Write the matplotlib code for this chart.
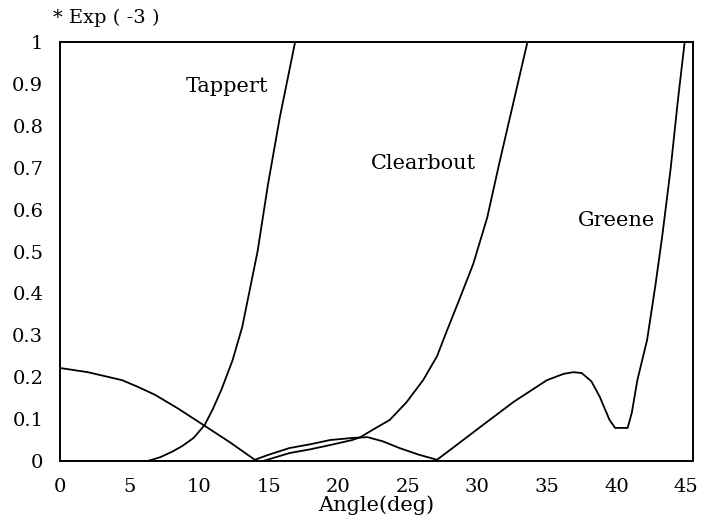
import numpy as np
import matplotlib
matplotlib.use("Agg")
import matplotlib.pyplot as plt

# ---------------------------------------------------------
# Datos (angulo en grados, error * 1e-3)
# ---------------------------------------------------------
tappert_x = [0, 6.3, 7.2, 8.05, 8.8, 9.6, 10.4, 11.0, 11.6, 12.4, 13.1, 14.2, 14.95, 15.8, 16.9]
tappert_y = [0, 0, 0.009, 0.022, 0.036, 0.055, 0.086, 0.125, 0.17, 0.24, 0.32, 0.50, 0.66, 0.82, 1.0]

clearbout_x = [0, 14.6, 16.5, 18.0, 19.4, 21.0, 21.6, 22.5, 23.7, 24.9, 26.1, 27.1, 27.8,
               28.7, 29.7, 30.7, 31.6, 32.6, 33.6]
clearbout_y = [0, 0, 0.019, 0.028, 0.038, 0.050, 0.057, 0.075, 0.098, 0.14, 0.193, 0.25, 0.31,
               0.385, 0.47, 0.58, 0.714, 0.857, 1.0]

greene_x = [0, 2.0, 4.46, 5.6, 6.83, 8.5, 10.4, 12.2, 14.0, 15.0, 16.5, 18.0, 19.4, 21.0, 22.1,
            23.2, 24.4, 25.8, 27.1, 28.5, 30.2, 32.6, 35.0, 36.2, 36.9, 37.5, 38.2, 38.8, 39.5,
            39.9, 40.8, 41.1, 41.5, 42.2, 42.8, 43.3, 43.9, 44.4, 44.9]
greene_y = [0.222, 0.212, 0.193, 0.177, 0.158, 0.125, 0.084, 0.045, 0.003, 0.015, 0.031, 0.040,
            0.050, 0.055, 0.057, 0.047, 0.031, 0.015, 0.003, 0.038, 0.081, 0.141, 0.193, 0.208,
            0.212, 0.21, 0.19, 0.153, 0.098, 0.079, 0.079, 0.115, 0.193, 0.289, 0.42, 0.54,
            0.70, 0.857, 1.0]

x_ticks = [0, 5, 10, 15, 20, 25, 30, 35, 40, 45]
y_ticks = [0, 0.1, 0.2, 0.3, 0.4, 0.5, 0.6, 0.7, 0.8, 0.9, 1]
y_tick_labels = ["0", "0.1", "0.2", "0.3", "0.4", "0.5", "0.6", "0.7", "0.8", "0.9", "1"]

# ---------------------------------------------------------
# Grafico
# ---------------------------------------------------------
plt.rcParams["font.family"] = "DejaVu Serif"

fig = plt.figure(figsize=(7.04, 5.31), dpi=100)
ax = fig.add_axes([0.0852, 0.1318, 0.8992, 0.7891])

for xs, ys in [(tappert_x, tappert_y), (clearbout_x, clearbout_y), (greene_x, greene_y)]:
    ax.plot(xs, ys, color="black", lw=1.3)

ax.set_xlim(0, 45.5)
ax.set_ylim(0, 1)
ax.set_xticks(x_ticks)
ax.set_xticklabels([str(t) for t in x_ticks])
ax.set_yticks(y_ticks)
ax.set_yticklabels(y_tick_labels)
ax.tick_params(length=0, labelsize=14)
ax.tick_params(axis="y", pad=12)
ax.tick_params(axis="x", pad=12)
for s in ax.spines.values():
    s.set_linewidth(1.4)

ax.set_xlabel("Angle(deg)", fontsize=15, labelpad=0)

ax.text(12.0, 0.893, "Tappert", fontsize=15, ha="center", va="center")
ax.text(26.1, 0.711, "Clearbout", fontsize=15, ha="center", va="center")
ax.text(40.0, 0.575, "Greene", fontsize=15, ha="center", va="center")

fig.text(53 / 704, 1 - 18 / 531, "* Exp ( -3 )", fontsize=14, ha="left", va="center")

plt.savefig("out.png", dpi=100)
